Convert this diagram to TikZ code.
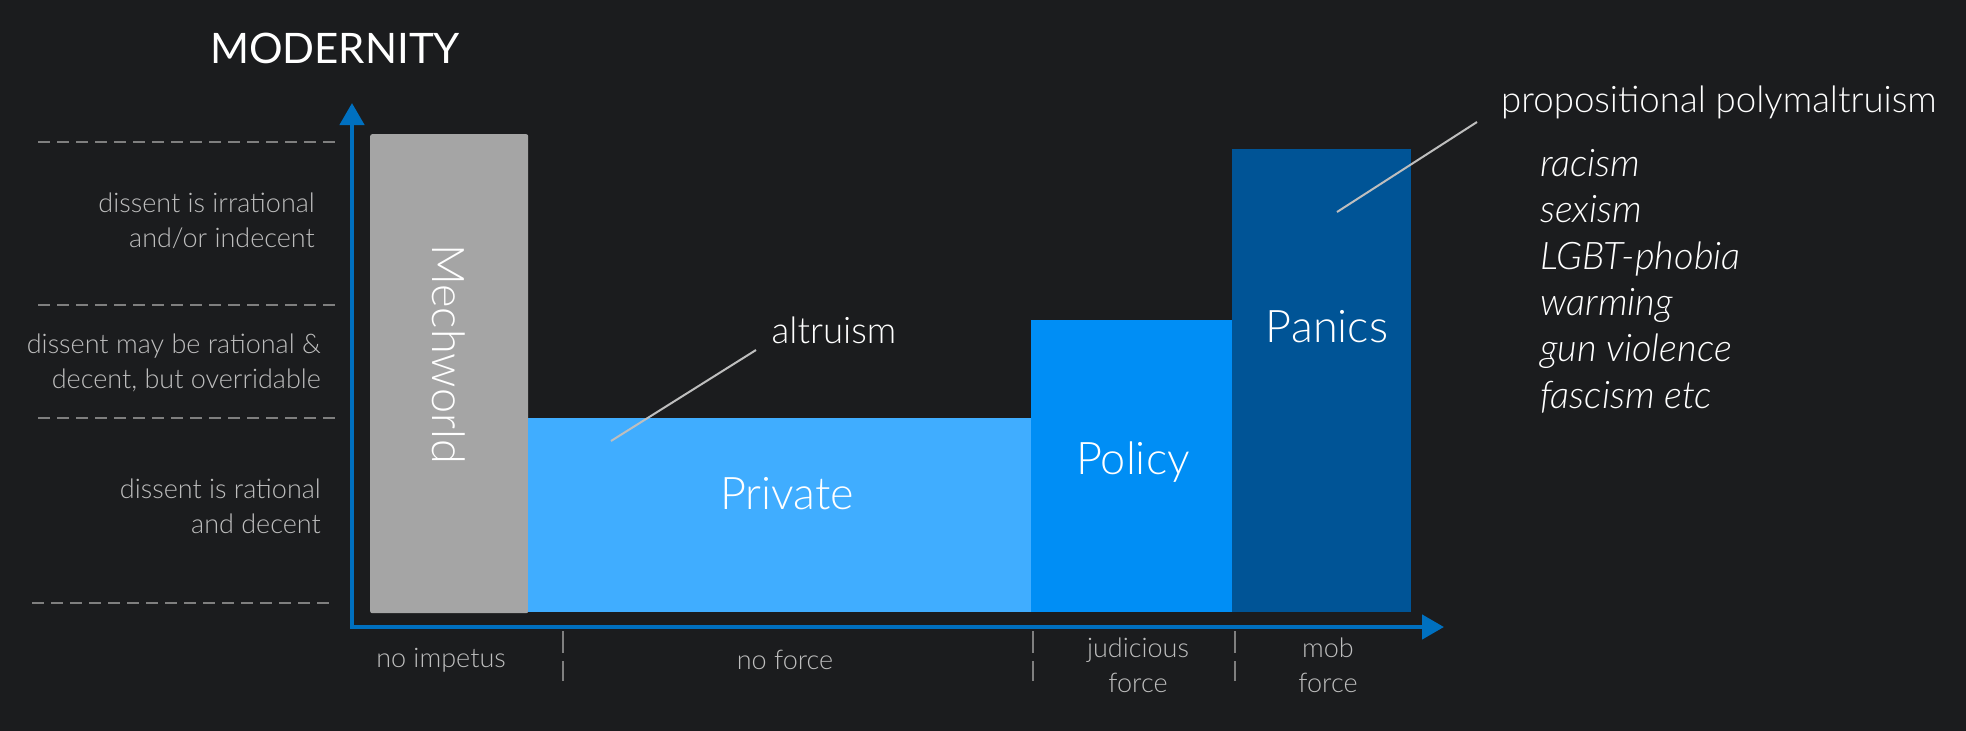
\documentclass[tikz,border=0pt]{standalone}
\usepackage{fontspec}
\setmainfont{Lato Light}[ItalicFont={Lato Light Italic}]
\newfontfamily\titlefont{Lato}
\usetikzlibrary{arrows.meta}
\definecolor{bg}{RGB}{27,28,30}
\definecolor{mechgray}{RGB}{165,165,165}
\definecolor{privblue}{RGB}{64,173,255}
\definecolor{polblue}{RGB}{0,142,245}
\definecolor{panblue}{RGB}{0,84,150}
\definecolor{axisblue}{RGB}{0,112,192}
\definecolor{labgray}{RGB}{190,190,190}
\definecolor{dashgray}{RGB}{127,127,127}
\tikzset{
  bar/.style={draw=none, inner sep=0pt, anchor=north west},
  biglabel/.style={text=white, inner sep=0pt, font=\fontsize{45}{54}\selectfont},
  midlabel/.style={text=white, inner sep=0pt, font=\fontsize{36.6}{44}\selectfont},
  sidelabel/.style={text=labgray, inner sep=0pt, align=right, anchor=east, font=\fontsize{27}{35}\selectfont},
  xlabel/.style={text=labgray, inner sep=0pt, align=center, font=\fontsize{27}{35}\selectfont},
  levelline/.style={draw=dashgray, line width=2pt, dash pattern=on 12pt off 7pt},
  tickline/.style={draw=dashgray, line width=2pt, dash pattern=on 22pt off 8pt},
  leader/.style={draw=labgray, line width=2pt},
  axisline/.style={draw=axisblue, line width=4.5pt, line join=miter, {Triangle[length=22pt,width=24pt]}-{Triangle[length=22pt,width=24pt]}},
}
\begin{document}
\begin{tikzpicture}[x=1pt,y=-1pt]
\fill[bg] (0,0) rectangle (1966,731);
\useasboundingbox (0,0) rectangle (1966,731);

% title
\node[text=white, inner sep=0pt, anchor=base, font=\titlefont\fontsize{42}{50}\selectfont] (title) at (335,63) {MODERNITY};

% level dashed lines
\coordinate (l1a) at (38,142); \coordinate (l1b) at (339,142);
\coordinate (l2a) at (38,305); \coordinate (l2b) at (339,305);
\coordinate (l3a) at (38,418); \coordinate (l3b) at (339,418);
\coordinate (l4a) at (32,603); \coordinate (l4b) at (333,603);
\draw[levelline] (l1a) -- (l1b);
\draw[levelline] (l2a) -- (l2b);
\draw[levelline] (l3a) -- (l3b);
\draw[levelline] (l4a) -- (l4b);

% side labels
\node[sidelabel] (s1) at (315,221) {dissent is irrational\\and/or indecent};
\node[sidelabel] (s2) at (321,363) {dissent may be rational \&\\decent, but overridable};
\node[sidelabel] (s3) at (321,506) {dissent is rational\\and decent};

% bars
\node[bar, fill=mechgray, rounded corners=2pt, minimum width=158pt, minimum height=479pt] (mech) at (370,134) {};
\node[bar, fill=privblue, minimum width=503pt, minimum height=194pt] (priv) at (528,418) {};
\node[bar, fill=polblue, minimum width=201pt, minimum height=292pt] (pol) at (1031,320) {};
\node[bar, fill=panblue, minimum width=179pt, minimum height=463pt] (pan) at (1232,149) {};

% bar labels
\node[biglabel, rotate=-90] (mechtxt) at (449,354) {Mechworld};
\node[biglabel] (privtxt) at (787,494) {Private};
\node[biglabel] (poltxt) at (1133,462) {Policy};
\node[biglabel] (pantxt) at (1327,327) {Panics};

% axes
\coordinate (ytop) at (352,103);
\coordinate (origin) at (352,627);
\coordinate (xend) at (1444,627);
\draw[axisline] (ytop) -- (origin) -- (xend);

% ticks below x axis
\coordinate (t1a) at (563,631); \coordinate (t1b) at (563,681);
\coordinate (t2a) at (1033,631); \coordinate (t2b) at (1033,681);
\coordinate (t3a) at (1235,631); \coordinate (t3b) at (1235,681);
\draw[tickline] (t1a) -- (t1b);
\draw[tickline] (t2a) -- (t2b);
\draw[tickline] (t3a) -- (t3b);

% x labels
\node[xlabel] (x1) at (441,660) {no impetus};
\node[xlabel] (x2) at (785,660) {no force};
\node[xlabel] (x3) at (1138,665) {judicious\\force};
\node[xlabel] (x4) at (1328,665) {mob\\force};

% altruism
\node[midlabel] (alt) at (834,330) {altruism};
\coordinate (altA) at (756,350);
\coordinate (altB) at (611,441);
\draw[leader] (altA) -- (altB);

% propositional polymaltruism
\node[midlabel, anchor=west] (prop) at (1501,102) {propositional polymaltruism};
\coordinate (propA) at (1477,122);
\coordinate (propB) at (1337,212);
\draw[leader] (propA) -- (propB);

% list
\node[text=white, inner sep=0pt, anchor=north west, align=left, font=\itshape\fontsize{38}{46.4}\selectfont] (list) at (1540,149) {racism\\sexism\\LGBT-phobia\\warming\\gun violence\\fascism etc};
\end{tikzpicture}
\end{document}
